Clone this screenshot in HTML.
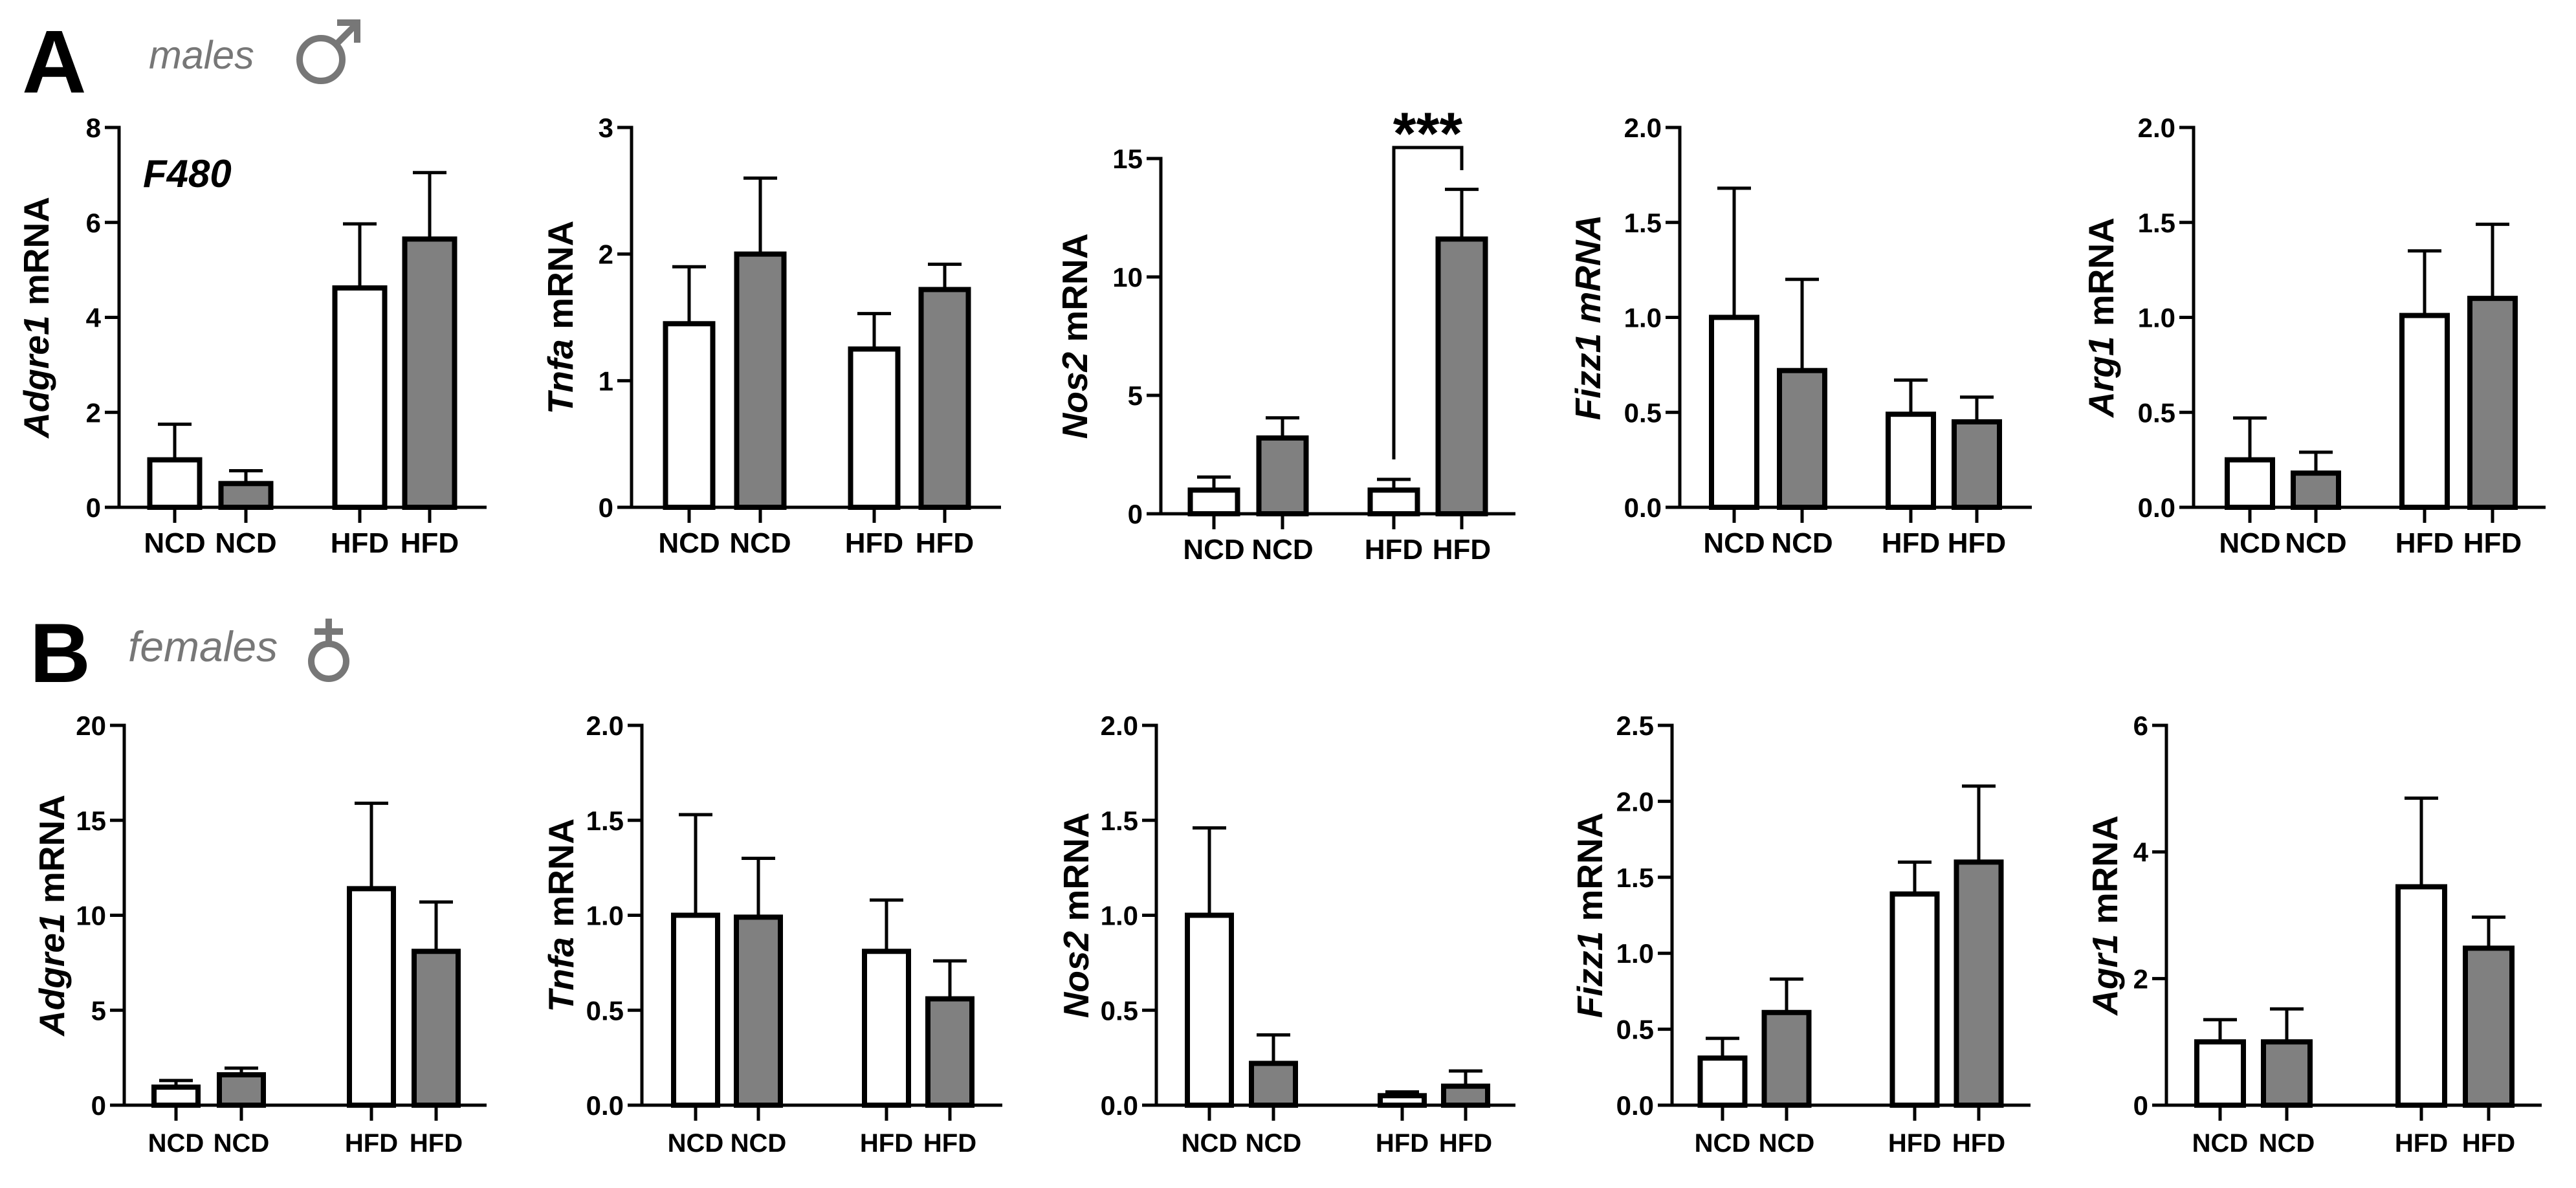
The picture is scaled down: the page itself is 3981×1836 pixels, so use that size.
<!DOCTYPE html>
<html><head><meta charset="utf-8"><style>
html,body{margin:0;padding:0;background:#fff;}
svg{display:block;font-family:"Liberation Sans",Arial,sans-serif;}
</style></head><body>
<svg id="fig" width="3981" height="1836" viewBox="0 0 3981 1836" xmlns="http://www.w3.org/2000/svg">
<rect width="3981" height="1836" fill="#fff"/>
<text x="34" y="143" font-size="138" font-weight="bold">A</text>
<text x="230" y="106" font-size="61" font-style="italic" fill="#777">males</text>
<g stroke="#777" stroke-width="10" fill="none">
<circle cx="496" cy="92" r="33"/><line x1="520" y1="68" x2="552" y2="36"/><polyline points="521,35 552,35 552,66"/>
</g>
<text x="46" y="1054" font-size="130" font-weight="bold">B</text>
<text x="198" y="1022" font-size="66" font-style="italic" fill="#777">females</text>
<g stroke="#777" stroke-width="10" fill="none">
<circle cx="508" cy="1022" r="27"/><line x1="508" y1="995" x2="508" y2="956"/><line x1="486" y1="976" x2="530" y2="976"/>
</g>
<text x="221" y="289" font-size="60" font-weight="bold" font-style="italic">F480</text>
<g id="charts"></g>
</svg>
<script>
// ---- data ----
const categories = ["NCD","NCD","HFD","HFD"];
const a1Means=[1.0,0.5,4.62,5.65], a1Errs=[0.75,0.27,1.35,1.4], a1Ticks=[0,2,4,6,8];
const a2Means=[1.45,2.0,1.25,1.72], a2Errs=[0.45,0.6,0.28,0.2], a2Ticks=[0,1,2,3];
const a3Means=[1.0,3.2,1.0,11.6], a3Errs=[0.55,0.85,0.45,2.1], a3Ticks=[0,5,10,15];
const a4Means=[1.0,0.72,0.49,0.45], a4Errs=[0.68,0.48,0.18,0.13], a4Ticks=[0,0.5,1.0,1.5,2.0];
const a5Means=[0.25,0.18,1.01,1.1], a5Errs=[0.22,0.11,0.34,0.39], a5Ticks=[0,0.5,1.0,1.5,2.0];
const b1Means=[0.95,1.6,11.4,8.1], b1Errs=[0.35,0.35,4.5,2.6], b1Ticks=[0,5,10,15,20];
const b2Means=[1.0,0.99,0.81,0.56], b2Errs=[0.53,0.31,0.27,0.2], b2Ticks=[0,0.5,1.0,1.5,2.0];
const b3Means=[1.0,0.22,0.05,0.1], b3Errs=[0.46,0.15,0.02,0.08], b3Ticks=[0,0.5,1.0,1.5,2.0];
const b4Means=[0.31,0.61,1.39,1.6], b4Errs=[0.13,0.22,0.21,0.5], b4Ticks=[0,0.5,1.0,1.5,2.0,2.5];
const b5Means=[1.0,1.0,3.45,2.48], b5Errs=[0.35,0.52,1.4,0.49], b5Ticks=[0,2,4,6];
const fills=["#fff","#808080","#fff","#808080"];

// ---- layout ----
const layouts=[
 {id:"a1",means:a1Means,errs:a1Errs,ticks:a1Ticks,dec:0,ax:184,top:197,zero:784,xEnd:752,cx:[270,380,556,664],bw:84,lab:["Adgre1"," mRNA"],lx:56,fs:44},
 {id:"a2",means:a2Means,errs:a2Errs,ticks:a2Ticks,dec:0,ax:976,top:197,zero:784,xEnd:1547,cx:[1065,1175,1351,1460],bw:80,lab:["Tnfa"," mRNA"],lx:866,fs:44},
 {id:"a3",means:a3Means,errs:a3Errs,ticks:a3Ticks,dec:0,ax:1794,top:245,zero:794,xEnd:2342,cx:[1876,1982,2154,2259],bw:80,lab:["Nos2"," mRNA"],lx:1661,fs:44},
 {id:"a4",means:a4Means,errs:a4Errs,ticks:a4Ticks,dec:1,ax:2596,top:197,zero:784,xEnd:3140,cx:[2680,2785,2953,3055],bw:77,lab:["Fizz1 mRNA",""],lx:2454,fs:44},
 {id:"a5",means:a5Means,errs:a5Errs,ticks:a5Ticks,dec:1,ax:3390,top:197,zero:784,xEnd:3934,cx:[3477,3579,3747,3852],bw:77,lab:["Arg1"," mRNA"],lx:3247,fs:44},
 {id:"b1",means:b1Means,errs:b1Errs,ticks:b1Ticks,dec:0,ax:192,top:1121,zero:1708,xEnd:752,cx:[272,373,574,674],bw:75,lab:["Adgre1"," mRNA"],lx:80,fs:40},
 {id:"b2",means:b2Means,errs:b2Errs,ticks:b2Ticks,dec:1,ax:992,top:1121,zero:1708,xEnd:1549,cx:[1075,1172,1370,1468],bw:75,lab:["Tnfa"," mRNA"],lx:867,fs:40},
 {id:"b3",means:b3Means,errs:b3Errs,ticks:b3Ticks,dec:1,ax:1787,top:1121,zero:1708,xEnd:2342,cx:[1869,1968,2167,2265],bw:75,lab:["Nos2"," mRNA"],lx:1663,fs:40},
 {id:"b4",means:b4Means,errs:b4Errs,ticks:b4Ticks,dec:1,ax:2584,top:1121,zero:1708,xEnd:3138,cx:[2662,2761,2959,3058],bw:76,lab:["Fizz1"," mRNA"],lx:2457,fs:40},
 {id:"b5",means:b5Means,errs:b5Errs,ticks:b5Ticks,dec:0,ax:3348,top:1121,zero:1708,xEnd:3928,cx:[3431,3534,3742,3846],bw:79,lab:["Agr1"," mRNA"],lx:3253,fs:40}
];
const NS="http://www.w3.org/2000/svg";
function mk(tag,attrs,parent){const e=document.createElementNS(NS,tag);for(const k in attrs)e.setAttribute(k,attrs[k]);parent.appendChild(e);return e;}
const root=document.getElementById("charts");
layouts.forEach(p=>{
  const g=mk("g",{},root);
  
  
  const max=p.ticks[p.ticks.length-1];
  const y=v=>p.zero-(v/max)*(p.zero-p.top);
  p.means.forEach((m,i)=>{
    const x0=p.cx[i]-p.bw/2;
    const eTop=y(m+p.errs[i]);
    const el=mk("line",{x1:p.cx[i],x2:p.cx[i],y1:y(m),y2:eTop,stroke:"#000","stroke-width":5},g);
    
    
    const cap=mk("line",{x1:p.cx[i]-26,x2:p.cx[i]+26,y1:eTop,y2:eTop,stroke:"#000","stroke-width":5},g);
    
    
    const r=mk("rect",{x:x0+3.5,y:y(m),width:p.bw-7,height:Math.max(p.zero-y(m),0),fill:fills[i],stroke:"#000","stroke-width":8},g);
    
    
    const t=mk("line",{x1:p.cx[i],x2:p.cx[i],y1:p.zero,y2:p.zero+24,stroke:"#000","stroke-width":5},g);
    
    
    const lb=mk("text",{x:p.cx[i],y:p.zero+(p.fs>42?70:72),"font-size":p.fs,"font-weight":"bold","text-anchor":"middle"},g);
    lb.textContent=categories[i];
    
    
  });
  const ya=mk("line",{x1:p.ax,x2:p.ax,y1:p.top-2.5,y2:p.zero,stroke:"#000","stroke-width":5},g);
  
  
  const xa=mk("line",{x1:p.ax-22,x2:p.xEnd,y1:p.zero,y2:p.zero,stroke:"#000","stroke-width":5},g);
  
  
  p.ticks.forEach(v=>{
    const tk=mk("line",{x1:p.ax-22,x2:p.ax,y1:y(v),y2:y(v),stroke:"#000","stroke-width":5},g);
    
    
    const tl=mk("text",{x:p.ax-28,y:y(v)+15,"font-size":42,"font-weight":"bold","text-anchor":"end"},g);
    tl.textContent=v.toFixed(p.dec);
    
    
  });
  const cy=(p.top+p.zero)/2;
  const yl=mk("text",{x:0,y:0,"font-size":55,"font-weight":"bold","text-anchor":"middle",transform:`translate(${p.lx+19},${cy}) rotate(-90)`},g);
  
  
  const s1=mk("tspan",{"font-style":"italic"},yl);s1.textContent=p.lab[0];
  if(p.lab[1]){const s2=mk("tspan",{},yl);s2.textContent=p.lab[1];}
  if(p.id==="a3"){
    const br=mk("polyline",{points:`${p.cx[2]},710 ${p.cx[2]},228 ${p.cx[3]},228 ${p.cx[3]},263`,fill:"none",stroke:"#000","stroke-width":5},g);
    
    
    const st=mk("text",{x:(p.cx[2]+p.cx[3])/2,y:238,"font-size":92,"font-weight":"bold","text-anchor":"middle"},g);
    st.textContent="***";
    
    
  }
});
</script>
</body></html>
